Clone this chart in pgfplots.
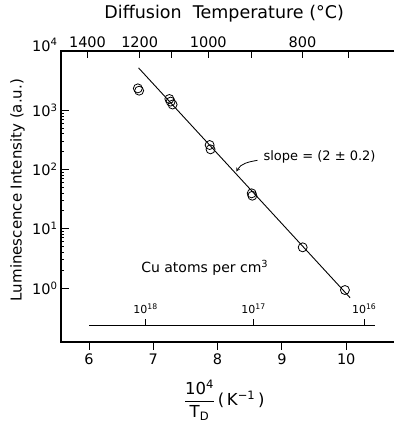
\documentclass[border=0pt]{standalone}
\usepackage{fontspec}
\setmainfont{DejaVu Sans}
\usepackage{pgfplots}
\pgfplotsset{compat=1.18}
\newcommand{\lbl}{\fontsize{13}{15}\selectfont}
\newcommand{\tkl}{\fontsize{14.5}{17}\selectfont}
\begin{document}
\begin{tikzpicture}[x=1pt,y=1pt]
\useasboundingbox (-61,-88) rectangle (333,342);
\pgfplotsset{common/.style={at={(0pt,0pt)},anchor=south west,width=333pt,height=291pt,scale only axis,
  xmin=5.565,xmax=10.743,axis line style={draw=none},major tick length=8pt,
  tick style={black,line width=0.9pt}, tick label style={font=\tkl},
  /pgf/number format/assume math mode=true}}
% main axis with data
\begin{axis}[common, ymode=log, ymin=0.1227, ymax=10000,
  ytick={1,10,100,1000},
  yticklabels={10\textsuperscript{0},10\textsuperscript{1},10\textsuperscript{2},10\textsuperscript{3}},
  extra y ticks={10000}, extra y tick labels={10\textsuperscript{4}},
  extra y tick style={yticklabel style={yshift=6pt}, major tick length=0pt},
  ytick pos=left, tick align=inside, xtick=\empty, clip=false]
 \addplot[black, line width=0.9pt] coordinates {(6.77,5200) (10.06,0.685)};
 \addplot[only marks, mark=o, mark size=4.5pt, black, mark options={line width=0.8pt}] coordinates {
  (6.76,2340) (6.78,2140)
  (7.25,1550) (7.27,1400) (7.30,1250)
  (7.876,259) (7.89,219)
  (8.53,39.6) (8.54,36.1)
  (9.323,4.86)
  (9.98,0.925)};
 % frame (open on the right)
 \draw[line width=1.1pt] (rel axis cs:1,1) -- (rel axis cs:0,1) -- (rel axis cs:0,0) -- (rel axis cs:1,0);
 % Cu concentration scale
 \draw[line width=0.9pt] (axis cs:6.005,0.2375) -- (axis cs:10.45,0.2375);
 \draw[line width=0.9pt] (axis cs:6.88,0.2375) -- ([yshift=6pt]axis cs:6.88,0.2375);
 \draw[line width=0.9pt] (axis cs:8.56,0.2375) -- ([yshift=6pt]axis cs:8.56,0.2375);
 \draw[line width=0.9pt] (axis cs:10.28,0.2375) -- ([yshift=6pt]axis cs:10.28,0.2375);
 \node[anchor=south,font=\fontsize{11}{13}\selectfont] at ([yshift=8pt]axis cs:6.88,0.2375) {10\textsuperscript{18}};
 \node[anchor=south,font=\fontsize{11}{13}\selectfont] at ([yshift=8pt]axis cs:8.56,0.2375) {10\textsuperscript{17}};
 \node[anchor=south,font=\fontsize{11}{13}\selectfont] at ([yshift=8pt]axis cs:10.28,0.2375) {10\textsuperscript{16}};
 \node[font=\fontsize{14}{16}\selectfont] at (axis cs:7.80,2.18) {Cu atoms per cm\textsuperscript{3}};
 % slope annotation
 \node[anchor=west,font=\lbl] at (axis cs:8.66,164) {slope = (2 ± 0.2)};
 \draw[-stealth, line width=0.8pt] (axis cs:8.62,143) to[out=190,in=60] (axis cs:8.29,92);
 % titles
 \node[font=\fontsize{17.5}{20}\selectfont] at ([yshift=37pt]rel axis cs:0.49,1) {Diffusion\ \ Temperature (°C)};
 \node[rotate=90,font=\fontsize{15}{18}\selectfont] at ([xshift=-43.5pt]rel axis cs:0,0.522) {Luminescence Intensity (a.u.)};
 \node[font=\fontsize{16.5}{19}\selectfont] at ([yshift=-58pt]rel axis cs:0.49,0) {$\displaystyle\frac{\mbox{10\textsuperscript{4}}}{\mbox{T\textsubscript{D}}}$\,(\,K\textsuperscript{−1}\,)};
\end{axis}
% bottom x axis
\begin{axis}[common, ymin=0, ymax=1, ytick=\empty, xtick={6,7,8,9,10},
  xtick pos=left, tick align=outside]
\end{axis}
% top temperature axis
\begin{axis}[common, ymin=0, ymax=1, ytick=\empty,
  xtick={5.977,6.789,7.283,7.855,8.525,9.320,10.04},
  xticklabels={1400,1200,,1000,,800,},
  xtick pos=right, xticklabel pos=right, tick align=inside, major tick length=7pt]
\end{axis}
\end{tikzpicture}
\end{document}
